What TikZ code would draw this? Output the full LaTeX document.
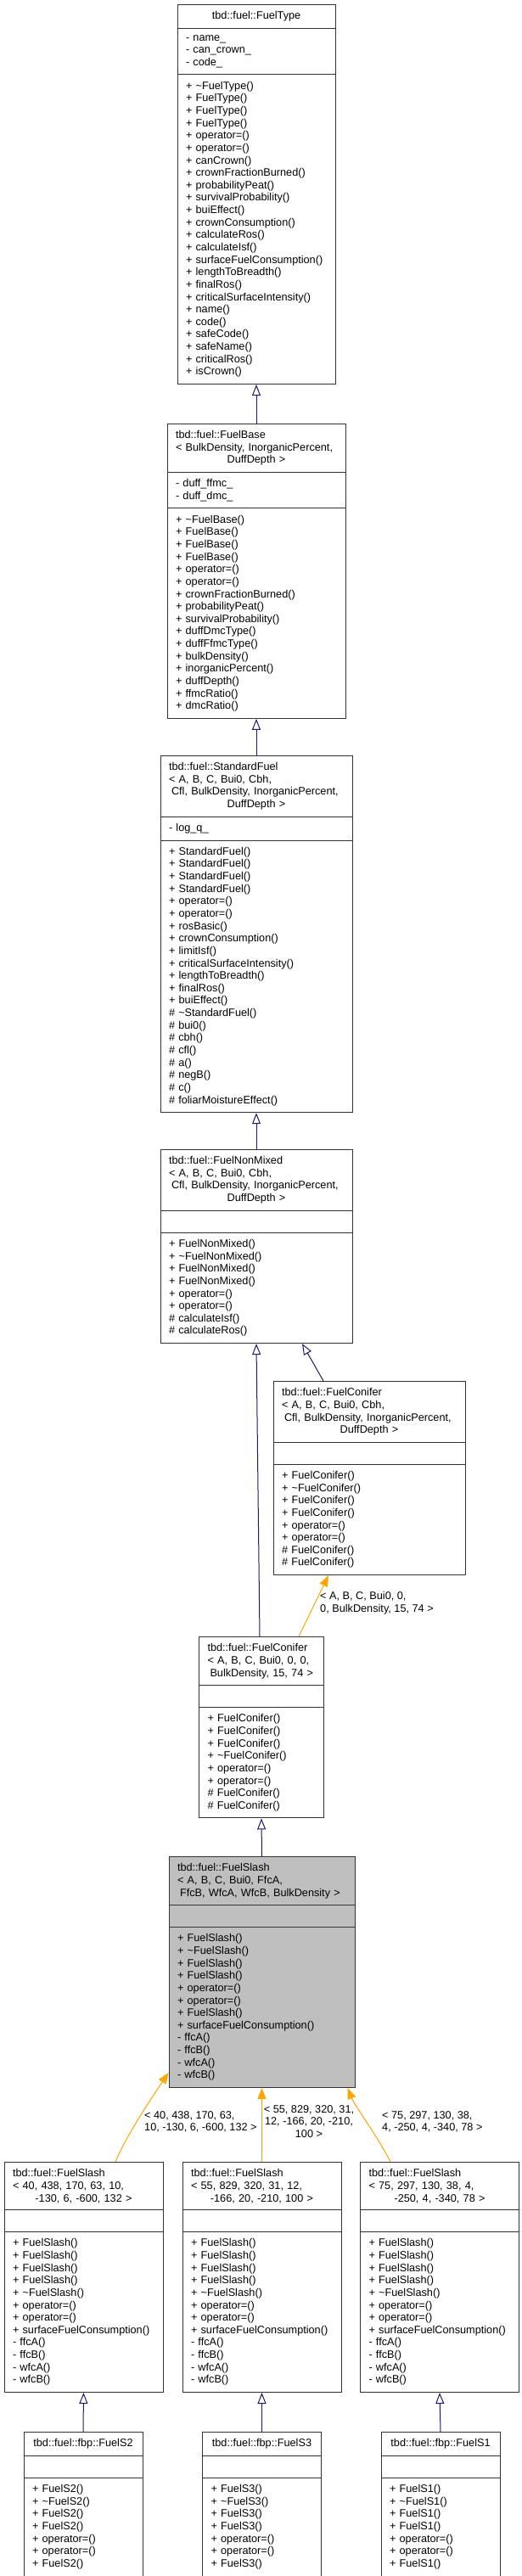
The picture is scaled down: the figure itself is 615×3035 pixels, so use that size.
\documentclass[tikz,border=0pt]{standalone}
\usepackage{fontspec}
\setmainfont{Liberation Sans}
\usetikzlibrary{shapes.multipart,arrows.meta}
\definecolor{inherit}{HTML}{191970}
\definecolor{tmplarg}{HTML}{FFA500}
\definecolor{focus}{HTML}{BFBFBF}
\begin{document}
\begin{tikzpicture}[x=1pt, y=-1pt, font=\fontsize{12.7}{14.64}\selectfont,
    cls/.style={rectangle split, rectangle split parts=3, draw=black!80, line width=1pt,
      fill=white, anchor=north, align=left, inner xsep=10pt, inner ysep=7.5pt},
    pub/.style={draw=inherit, line width=1pt, -{Triangle[open, length=13pt, width=10pt]}},
    tpl/.style={draw=tmplarg, line width=1pt, -{Triangle[length=13pt, width=10pt]}},
    lbl/.style={align=left, inner sep=0pt, anchor=north west}]
    \fill[white] (0,0) rectangle (615,3035);
    \useasboundingbox (0,0) rectangle (615,3035);
    \node[cls, text width=166pt] (fueltype) at (302,5) {\makebox[\linewidth]{tbd::fuel::FuelType}
      \nodepart{two}- name\_\\- can\_crown\_\\- code\_
      \nodepart{three}+ \textasciitilde FuelType()\\+ FuelType()\\+ FuelType()\\+ FuelType()\\+ operator=()\\+ operator=()\\+ canCrown()\\+ crownFractionBurned()\\+ probabilityPeat()\\+ survivalProbability()\\+ buiEffect()\\+ crownConsumption()\\+ calculateRos()\\+ calculateIsf()\\+ surfaceFuelConsumption()\\+ lengthToBreadth()\\+ finalRos()\\+ criticalSurfaceIntensity()\\+ name()\\+ code()\\+ safeCode()\\+ safeName()\\+ criticalRos()\\+ isCrown()};
    \node[cls, text width=190pt] (fuelbase) at (302,499) {tbd::fuel::FuelBase\\< BulkDensity, InorganicPercent,\\\makebox[\linewidth]{DuffDepth >}
      \nodepart{two}- duff\_ffmc\_\\- duff\_dmc\_
      \nodepart{three}+ \textasciitilde FuelBase()\\+ FuelBase()\\+ FuelBase()\\+ FuelBase()\\+ operator=()\\+ operator=()\\+ crownFractionBurned()\\+ probabilityPeat()\\+ survivalProbability()\\+ duffDmcType()\\+ duffFfmcType()\\+ bulkDensity()\\+ inorganicPercent()\\+ duffDepth()\\+ ffmcRatio()\\+ dmcRatio()};
    \node[cls, text width=206pt] (standardfuel) at (302,890) {tbd::fuel::StandardFuel\\< A, B, C, Bui0, Cbh,\\\hspace*{3pt}Cfl, BulkDensity, InorganicPercent,\\\makebox[\linewidth]{DuffDepth >}
      \nodepart{two}- log\_q\_
      \nodepart{three}+ StandardFuel()\\+ StandardFuel()\\+ StandardFuel()\\+ StandardFuel()\\+ operator=()\\+ operator=()\\+ rosBasic()\\+ crownConsumption()\\+ limitIsf()\\+ criticalSurfaceIntensity()\\+ lengthToBreadth()\\+ finalRos()\\+ buiEffect()\\\# \textasciitilde StandardFuel()\\\# bui0()\\\# cbh()\\\# cfl()\\\# a()\\\# negB()\\\# c()\\\# foliarMoistureEffect()};
    \node[cls, text width=206pt] (fuelnonmixed) at (302,1354) {tbd::fuel::FuelNonMixed\\< A, B, C, Bui0, Cbh,\\\hspace*{3pt}Cfl, BulkDensity, InorganicPercent,\\\makebox[\linewidth]{DuffDepth >}
      \nodepart{two}\rule{0pt}{10pt}
      \nodepart{three}+ FuelNonMixed()\\+ \textasciitilde FuelNonMixed()\\+ FuelNonMixed()\\+ FuelNonMixed()\\+ operator=()\\+ operator=()\\\# calculateIsf()\\\# calculateRos()};
    \node[cls, text width=206pt] (fuelconiferT) at (435,1627) {tbd::fuel::FuelConifer\\< A, B, C, Bui0, Cbh,\\\hspace*{3pt}Cfl, BulkDensity, InorganicPercent,\\\makebox[\linewidth]{DuffDepth >}
      \nodepart{two}\rule{0pt}{10pt}
      \nodepart{three}+ FuelConifer()\\+ \textasciitilde FuelConifer()\\+ FuelConifer()\\+ FuelConifer()\\+ operator=()\\+ operator=()\\\# FuelConifer()\\\# FuelConifer()};
    \node[cls, text width=127pt] (fuelconifer) at (308,1928) {tbd::fuel::FuelConifer\\< A, B, C, Bui0, 0, 0,\\\hspace*{3pt}BulkDensity, 15, 74 >
      \nodepart{two}\rule{0pt}{10pt}
      \nodepart{three}+ FuelConifer()\\+ FuelConifer()\\+ FuelConifer()\\+ \textasciitilde FuelConifer()\\+ operator=()\\+ operator=()\\\# FuelConifer()\\\# FuelConifer()};
    \node[cls, fill=focus, text width=199pt] (fuelslash) at (308.5,2187) {tbd::fuel::FuelSlash\\< A, B, C, Bui0, FfcA,\\\hspace*{3pt}FfcB, WfcA, WfcB, BulkDensity >
      \nodepart{two}\rule{0pt}{10pt}
      \nodepart{three}+ FuelSlash()\\+ \textasciitilde FuelSlash()\\+ FuelSlash()\\+ FuelSlash()\\+ operator=()\\+ operator=()\\+ FuelSlash()\\+ surfaceFuelConsumption()\\- ffcA()\\- ffcB()\\- wfcA()\\- wfcB()};
    \node[cls, text width=167pt] (slashS2) at (98.5,2547) {tbd::fuel::FuelSlash\\< 40, 438, 170, 63, 10,\\\makebox[\linewidth]{-130, 6, -600, 132 >}
      \nodepart{two}\rule{0pt}{10pt}
      \nodepart{three}+ FuelSlash()\\+ FuelSlash()\\+ FuelSlash()\\+ FuelSlash()\\+ \textasciitilde FuelSlash()\\+ operator=()\\+ operator=()\\+ surfaceFuelConsumption()\\- ffcA()\\- ffcB()\\- wfcA()\\- wfcB()};
    \node[cls, text width=167pt] (slashS3) at (308.5,2547) {tbd::fuel::FuelSlash\\< 55, 829, 320, 31, 12,\\\makebox[\linewidth]{-166, 20, -210, 100 >}
      \nodepart{two}\rule{0pt}{10pt}
      \nodepart{three}+ FuelSlash()\\+ FuelSlash()\\+ FuelSlash()\\+ FuelSlash()\\+ \textasciitilde FuelSlash()\\+ operator=()\\+ operator=()\\+ surfaceFuelConsumption()\\- ffcA()\\- ffcB()\\- wfcA()\\- wfcB()};
    \node[cls, text width=167pt] (slashS1) at (518,2547) {tbd::fuel::FuelSlash\\< 75, 297, 130, 38, 4,\\\makebox[\linewidth]{-250, 4, -340, 78 >}
      \nodepart{two}\rule{0pt}{10pt}
      \nodepart{three}+ FuelSlash()\\+ FuelSlash()\\+ FuelSlash()\\+ FuelSlash()\\+ \textasciitilde FuelSlash()\\+ operator=()\\+ operator=()\\+ surfaceFuelConsumption()\\- ffcA()\\- ffcB()\\- wfcA()\\- wfcB()};
    \node[cls, text width=120pt] (fuelS2) at (98,2865) {\makebox[\linewidth]{tbd::fuel::fbp::FuelS2}
      \nodepart{two}\rule{0pt}{10pt}
      \nodepart{three}+ FuelS2()\\+ \textasciitilde FuelS2()\\+ FuelS2()\\+ FuelS2()\\+ operator=()\\+ operator=()\\+ FuelS2()};
    \node[cls, text width=120pt] (fuelS3) at (308.5,2865) {\makebox[\linewidth]{tbd::fuel::fbp::FuelS3}
      \nodepart{two}\rule{0pt}{10pt}
      \nodepart{three}+ FuelS3()\\+ \textasciitilde FuelS3()\\+ FuelS3()\\+ FuelS3()\\+ operator=()\\+ operator=()\\+ FuelS3()};
    \node[cls, text width=120pt] (fuelS1) at (519,2865) {\makebox[\linewidth]{tbd::fuel::fbp::FuelS1}
      \nodepart{two}\rule{0pt}{10pt}
      \nodepart{three}+ FuelS1()\\+ \textasciitilde FuelS1()\\+ FuelS1()\\+ FuelS1()\\+ operator=()\\+ operator=()\\+ FuelS1()};
    \node[lbl] (coniferargs) at (377,1875) {< A, B, C, Bui0, 0,\\0, BulkDensity, 15, 74 >};
    \node[lbl] (s2args) at (170,2487) {< 40, 438, 170, 63,\\10, -130, 6, -600, 132 >};
    \node[lbl, align=center, anchor=north] (s3args) at (364,2480) {< 55, 829, 320, 31,\\12, -166, 20, -210,\\100 >};
    \node[lbl] (s1args) at (450,2487) {< 75, 297, 130, 38,\\4, -250, 4, -340, 78 >};
    \draw[pub] (fuelbase.north) -- (fueltype.south);
    \draw[pub] (standardfuel.north) -- (fuelbase.south);
    \draw[pub] (fuelnonmixed.north) -- (standardfuel.south);
    \draw[pub] ([xshift=-2pt]fuelconifer.north) -- (fuelnonmixed.south);
    \draw[pub] ([xshift=-54pt]fuelconiferT.north) -- ([xshift=54pt]fuelnonmixed.south);
    \draw[tpl] ([xshift=44pt]fuelconifer.north) -- ([xshift=-48pt]fuelconiferT.south);
    \draw[pub] (fuelslash.north) -- (fuelconifer.south);
    \draw[tpl] ([xshift=37.5pt]slashS2.north) .. controls +(13,-32) and +(-14,21) .. ([yshift=18pt]fuelslash.south west);
    \draw[tpl] (slashS3.north) -- (fuelslash.south);
    \draw[tpl] ([xshift=-58pt]slashS1.north) .. controls +(-14,-28) and +(8,20) .. ([xshift=101pt]fuelslash.south);
    \draw[pub] (fuelS2.north) -- (slashS2.south);
    \draw[pub] (fuelS3.north) -- (slashS3.south);
    \draw[pub] (fuelS1.north) -- (slashS1.south);
\end{tikzpicture}
\end{document}
